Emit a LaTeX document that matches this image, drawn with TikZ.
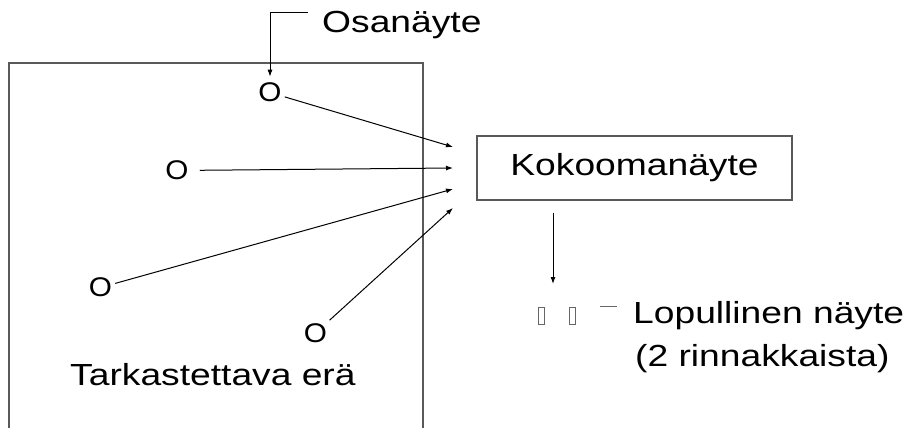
\documentclass[tikz,border=0pt]{standalone}
\usepackage{fontspec}
\setmainfont{Liberation Sans}
\usepackage{graphicx}
\usetikzlibrary{arrows.meta}
\newcommand{\wide}[2][1.22]{\scalebox{#1}[1]{#2}}

\begin{document}
\begin{tikzpicture}[x=1pt, y=-1pt,
	TextStyle/.style = {inner sep=0pt, anchor=base west, font=\fontsize{30.5}{36}\selectfont},
	OStyle/.style = {inner sep=3pt, font=\fontsize{27}{30}\selectfont},
	BoxStyle/.style = {shape=rectangle, draw=black!65, line width=1.1pt, minimum width=315pt, minimum height=64pt, font=\fontsize{30.5}{36}\selectfont},
	TubeStyle/.style = {shape=rectangle, draw=black!60, line width=0.7pt, minimum width=6pt, minimum height=17pt, inner sep=0pt},
	ArrowStyle/.style = {-{Latex[length=7pt,width=5pt]}, line width=1pt}]
			\useasboundingbox (0,0) rectangle (911,428);

			\draw[black!65, line width=1.1pt] (9,428) |- (423,63) -- (423,428);

			\node[OStyle] (o1) at (270,92.5) {\wide[1.1]{O}};
			\node[OStyle] (o2) at (177,170.5) {\wide[1.1]{O}};
			\node[OStyle] (o3) at (100.5,287.5) {\wide[1.1]{O}};
			\node[OStyle] (o4) at (315.5,333) {\wide[1.1]{O}};

			\node[TextStyle] (osa) at (322,33) {\wide{Osanäyte}};
			\node[TextStyle] (era) at (70,385) {\wide{Tarkastettava erä}};
			\node[BoxStyle] (kok) at (634.5,168) {\wide{Kokoomanäyte}};
			\node[TextStyle] (lop) at (633,323) {\wide{Lopullinen näyte}};
			\node[TextStyle] (rin) at (635,366) {\wide{(2 rinnakkaista)}};

			\node[TubeStyle] (tube1) at (541,315.5) {};
			\node[TubeStyle] (tube2) at (572,315.5) {};

			\coordinate (osaend) at (308,13);
			\coordinate (t1) at (453,147);
			\coordinate (t2) at (453,168);
			\coordinate (t3) at (453,189);
			\coordinate (t4) at (453,208);
			\coordinate (down1) at (553,213);
			\coordinate (down2) at (553,284);

			\draw[ArrowStyle, shorten >=3pt] (osaend) -| (o1.north);

			\path[ArrowStyle, draw]
				(o1) edge (t1)
				(o2) edge [shorten <=8pt] (t2)
				(o3) edge (t3)
				(o4) edge (t4)
			;
			\draw[ArrowStyle] (down1) -- (down2);

			\draw[black!60, line width=0.8pt] ([xshift=25pt]tube2.north east) -- ([xshift=42pt]tube2.north east);
		\end{tikzpicture}
\end{document}
